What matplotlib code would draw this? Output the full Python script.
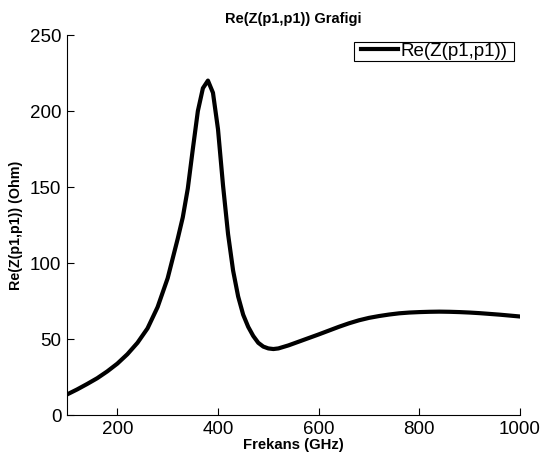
import matplotlib
matplotlib.use("Agg")
import matplotlib.pyplot as plt
from matplotlib.patches import Rectangle

freq = [100, 120, 140, 160, 180, 200, 220, 240, 260, 280, 300, 310, 320, 330, 340,
        350, 360, 370, 380, 390, 400, 410, 420, 430, 440, 450, 460, 470, 480, 490,
        500, 510, 520, 540, 560, 580, 600, 620, 640, 660, 680, 700, 720, 740, 760,
        780, 800, 820, 840, 860, 880, 900, 920, 940, 960, 980, 1000]
re_z = [13.5, 16.8, 20.4, 24.2, 28.7, 33.8, 40.0, 47.5, 57.0, 71.0, 90.0, 103.0, 116.0,
        130.0, 149.0, 175.0, 200.0, 215.0, 220.0, 212.0, 188.0, 151.0, 119.0, 95.0,
        78.0, 66.0, 58.0, 52.0, 47.5, 45.0, 43.8, 43.4, 43.8, 45.8, 48.2, 50.6, 53.0,
        55.5, 58.0, 60.3, 62.3, 63.9, 65.1, 66.1, 66.9, 67.4, 67.7, 67.9, 68.0, 67.9,
        67.7, 67.4, 67.0, 66.5, 66.0, 65.4, 64.8]

xticks = [200, 400, 600, 800, 1000]
yticks = [0, 50, 100, 150, 200, 250]

plt.rcParams['font.family'] = ['Liberation Sans', 'DejaVu Sans']

fig = plt.figure(figsize=(5.42, 4.61), dpi=100)
ax = fig.add_axes([67 / 542, 1 - 415 / 461, (520 - 67) / 542, (415 - 35) / 461])

ax.plot(freq, re_z, color='black', lw=3.0, label='Re(Z(p1,p1))')
ax.set_xlim(100, 1000)
ax.set_ylim(0, 250)
ax.set_xticks(xticks)
ax.set_yticks(yticks)
ax.tick_params(direction='in', length=5, width=0.8, labelsize=13.5, pad=4)
for s in ['top', 'right']:
    ax.spines[s].set_visible(False)
for s in ['left', 'bottom']:
    ax.spines[s].set_linewidth(0.8)

ax.set_title('Re(Z(p1,p1)) Grafigi', fontsize=10.5, fontweight='bold', pad=9)
ax.set_xlabel('Frekans (GHz)', fontsize=10.7, fontweight='bold', labelpad=0)
ax.set_ylabel('Re(Z(p1,p1)) (Ohm)', fontsize=10.3, fontweight='bold', labelpad=5)

# legend frame (wider horizontally than vertically, as in the reference)
bx0, bx1, by0, by1 = 0.6336, 0.9868, 0.9316, 0.9816
ax.add_patch(Rectangle((bx0, by0), bx1 - bx0, by1 - by0, transform=ax.transAxes,
                       facecolor='white', edgecolor='black', lw=0.8, zorder=4,
                       clip_on=False))
leg = ax.legend(loc='center', bbox_to_anchor=((bx0 + bx1) / 2, (by0 + by1) / 2),
                borderaxespad=0, fontsize=13.5, handlelength=2.0, handletextpad=0.1,
                borderpad=0, frameon=False)
leg.set_zorder(5)

fig.savefig('out.png', dpi=100)
